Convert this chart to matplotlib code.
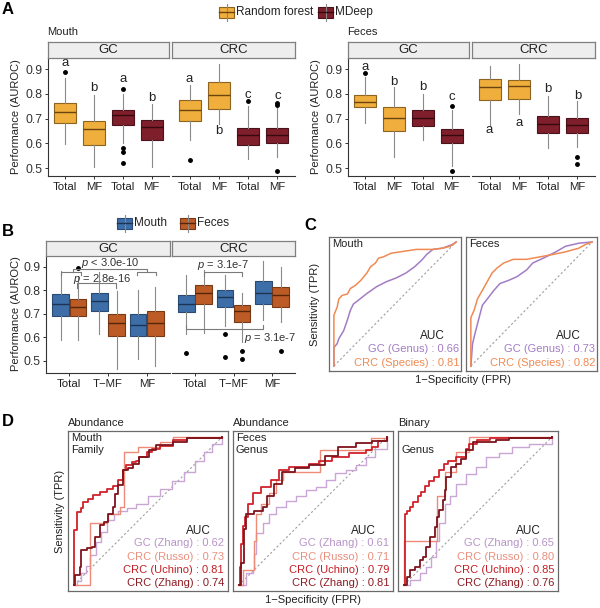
import matplotlib
matplotlib.use('Agg')
import matplotlib.pyplot as plt

plt.rcParams['font.family'] = ['Liberation Sans', 'DejaVu Sans']
plt.rcParams['mathtext.fontset'] = 'custom'
plt.rcParams['mathtext.it'] = 'Liberation Sans:italic'
plt.rcParams['mathtext.rm'] = 'Liberation Sans'

# ---------------- DATA ----------------
# Panel A: boxplot stats [whislo, q1, median, q3, whishi]
A_categories = ['Total', 'MF', 'Total', 'MF']
A_models = ['Random forest', 'Random forest', 'MDeep', 'MDeep']
A_mouth_gc = [[0.596, 0.683, 0.727, 0.764, 0.865], [0.505, 0.595, 0.660, 0.691, 0.795],
              [0.600, 0.676, 0.716, 0.734, 0.800], [0.505, 0.613, 0.665, 0.696, 0.760]]
A_mouth_gc_out = [[0.888], [], [0.82, 0.58, 0.565, 0.52], []]
A_mouth_gc_let = ['a', 'b', 'a', 'b']
A_mouth_gc_lety = [0.925, 0.822, 0.86, 0.784]
A_mouth_crc = [[0.613, 0.691, 0.734, 0.777, 0.835], [0.680, 0.738, 0.797, 0.846, 0.920],
               [0.535, 0.595, 0.633, 0.664, 0.750], [0.545, 0.600, 0.633, 0.662, 0.745]]
A_mouth_crc_out = [[0.532], [], [0.77], [0.765, 0.757, 0.487]]
A_mouth_crc_let = ['a', 'b', 'c', 'c']
A_mouth_crc_lety = [0.86, 0.649, 0.797, 0.792]
A_feces_gc = [[0.682, 0.745, 0.768, 0.795, 0.869], [0.545, 0.650, 0.704, 0.747, 0.826],
              [0.612, 0.670, 0.703, 0.736, 0.800], [0.510, 0.600, 0.632, 0.659, 0.735]]
A_feces_gc_out = [[0.885], [], [], [0.752, 0.487]]
A_feces_gc_let = ['a', 'b', 'b', 'c']
A_feces_gc_lety = [0.909, 0.846, 0.826, 0.788]
A_feces_crc = [[0.670, 0.777, 0.826, 0.862, 0.912], [0.720, 0.780, 0.831, 0.855, 0.920],
               [0.580, 0.642, 0.677, 0.710, 0.790], [0.585, 0.642, 0.673, 0.704, 0.770]]
A_feces_crc_out = [[], [], [], [0.545, 0.518]]
A_feces_crc_let = ['a', 'a', 'b', 'b']
A_feces_crc_lety = [0.655, 0.682, 0.819, 0.792]

# Panel B
B_categories = ['Total', 'T\u2212MF', 'MF']
B_sites = ['Mouth', 'Feces']
B_gc_mouth = [[0.586, 0.691, 0.741, 0.786, 0.881], [0.613, 0.714, 0.753, 0.789, 0.880],
              [0.507, 0.606, 0.653, 0.699, 0.803]]
B_gc_feces = [[0.589, 0.691, 0.731, 0.764, 0.862], [0.464, 0.606, 0.660, 0.700, 0.796],
              [0.477, 0.603, 0.660, 0.710, 0.814]]
B_gc_mouth_out = [[], [], []]
B_gc_feces_out = [[0.895], [], []]
B_crc_mouth = [[0.614, 0.706, 0.741, 0.779, 0.867], [0.646, 0.727, 0.770, 0.803, 0.867],
               [0.674, 0.741, 0.789, 0.839, 0.924]]
B_crc_feces = [[0.617, 0.743, 0.789, 0.824, 0.889], [0.581, 0.663, 0.710, 0.739, 0.791],
               [0.664, 0.731, 0.781, 0.814, 0.899]]
B_crc_mouth_out = [[0.531], [0.613, 0.517], []]
B_crc_feces_out = [[], [0.539, 0.506], [0.539]]

# Panel C: ROC curves
C_mouth_crc_fpr = [0, 0, 0.027, 0.04, 0.068, 0.11, 0.135, 0.175, 0.22, 0.27, 0.30, 0.34, 0.365,
                   0.405, 0.47, 0.54, 0.675, 0.81, 0.89, 0.95, 0.99, 1]
C_mouth_crc_tpr = [0, 0.41, 0.475, 0.54, 0.57, 0.58, 0.625, 0.65, 0.69, 0.75, 0.80, 0.83, 0.87,
                   0.88, 0.91, 0.92, 0.94, 0.94, 0.95, 0.965, 0.99, 1]
C_mouth_gc_fpr = [0, 0, 0.027, 0.04, 0.08, 0.11, 0.135, 0.16, 0.2, 0.27, 0.35, 0.43, 0.51, 0.59,
                  0.66, 0.72, 0.76, 0.81, 0.89, 0.97, 1]
C_mouth_gc_tpr = [0, 0.15, 0.18, 0.22, 0.285, 0.37, 0.45, 0.5, 0.53, 0.585, 0.64, 0.68, 0.71, 0.75,
                  0.80, 0.855, 0.9, 0.94, 0.95, 0.98, 1]
C_feces_crc_fpr = [0, 0, 0.027, 0.054, 0.095, 0.135, 0.175, 0.216, 0.27, 0.35, 0.46, 0.57, 0.68,
                   0.78, 0.89, 0.946, 1]
C_feces_crc_tpr = [0, 0.39, 0.45, 0.54, 0.61, 0.68, 0.75, 0.79, 0.83, 0.86, 0.86, 0.88, 0.9,
                   0.92, 0.95, 0.98, 1]
C_feces_gc_fpr = [0, 0.014, 0.04, 0.068, 0.095, 0.135, 0.19, 0.24, 0.31, 0.38, 0.46, 0.51, 0.62,
                  0.70, 0.78, 0.89, 1]
C_feces_gc_tpr = [0, 0.18, 0.285, 0.39, 0.49, 0.54, 0.61, 0.665, 0.69, 0.72, 0.775, 0.83, 0.88,
                  0.92, 0.965, 0.99, 1]
C_labels = ['GC (Genus)', 'CRC (Species)']
C_auc_mouth = [0.66, 0.81]
C_auc_feces = [0.73, 0.82]

# Panel D: ROC curves (GC Zhang, CRC Russo, CRC Uchino, CRC Zhang)
D_labels = ['GC (Zhang)', 'CRC (Russo)', 'CRC (Uchino)', 'CRC (Zhang)']
D1_fpr = [[0, 0.02, 0.05, 0.08, 0.11, 0.15, 0.18, 0.22, 0.27, 0.3, 0.36, 0.42, 0.5, 0.58, 0.66, 0.74, 0.82, 0.88, 0.93, 1],
          [0, 0.108, 0.22, 0.23, 0.31, 0.335, 0.335, 0.43, 0.58, 0.67, 1],
          [0, 0, 0.022, 0.05, 0.063, 0.096, 0.13, 0.175, 0.22, 0.265, 0.3, 0.33, 0.354, 0.39, 0.42, 0.44, 0.49, 0.53, 0.58, 0.67, 0.76, 0.85, 1],
          [0, 0.007, 0.04, 0.05, 0.085, 0.12, 0.14, 0.175, 0.2, 0.23, 0.265, 0.275, 0.3, 0.33, 0.365, 0.4, 0.44, 0.51, 0.556, 0.67, 0.76, 1]]
D1_tpr = [[0, 0.03, 0.08, 0.13, 0.2, 0.29, 0.36, 0.44, 0.48, 0.5, 0.52, 0.55, 0.6, 0.65, 0.7, 0.76, 0.84, 0.9, 0.95, 1],
          [0, 0.42, 0.43, 0.48, 0.53, 0.56, 0.9, 0.93, 0.965, 1, 1],
          [0, 0.37, 0.49, 0.52, 0.56, 0.58, 0.61, 0.63, 0.65, 0.67, 0.71, 0.775, 0.81, 0.83, 0.84, 0.865, 0.9, 0.92, 0.94, 0.98, 0.99, 0.995, 1],
          [0, 0.067, 0.124, 0.236, 0.247, 0.258, 0.326, 0.404, 0.427, 0.483, 0.528, 0.618, 0.674, 0.775, 0.787, 0.82, 0.865, 0.91, 0.944, 0.966, 0.99, 1]]
D1_auc = [0.62, 0.73, 0.81, 0.74]
D2_fpr = [[0, 0.05, 0.094, 0.105, 0.116, 0.16, 0.2, 0.25, 0.32, 0.385, 0.45, 0.52, 0.585, 0.65, 0.72, 0.79, 0.855, 0.92, 1],
          [0, 0.027, 0.105, 0.116, 0.15, 0.2, 0.25, 0.3, 0.55, 0.89, 1],
          [0, 0.008, 0.016, 0.03, 0.038, 0.06, 0.094, 0.15, 0.217, 0.27, 0.34, 0.47, 0.54, 0.63, 0.74, 0.855, 0.9, 0.94, 1],
          [0, 0.015, 0.035, 0.05, 0.1, 0.16, 0.19, 0.24, 0.29, 0.38, 0.47, 0.58, 0.67, 0.79, 0.9, 1]]
D2_tpr = [[0, 0.08, 0.1, 0.21, 0.35, 0.42, 0.48, 0.53, 0.57, 0.6, 0.64, 0.66, 0.71, 0.755, 0.78, 0.81, 0.865, 0.92, 1],
          [0, 0.1, 0.3, 0.48, 0.55, 0.62, 0.71, 0.76, 0.91, 0.99, 1],
          [0, 0.12, 0.28, 0.4, 0.46, 0.55, 0.62, 0.66, 0.71, 0.78, 0.8, 0.82, 0.84, 0.865, 0.89, 0.91, 0.93, 0.97, 1],
          [0, 0.15, 0.38, 0.48, 0.5, 0.53, 0.6, 0.68, 0.76, 0.79, 0.81, 0.87, 0.93, 0.96, 0.97, 1]]
D2_auc = [0.61, 0.71, 0.79, 0.81]
D3_fpr = [[0, 0.04, 0.107, 0.152, 0.185, 0.219, 0.24, 0.275, 0.308, 0.353, 0.42, 0.487, 0.554, 0.643, 0.732, 0.844, 1],
          [0, 0, 0.22, 0.275, 0.35, 0.44, 1],
          [0, 0.007, 0.018, 0.04, 0.063, 0.096, 0.118, 0.14, 0.17, 0.2, 0.24, 0.27, 0.3, 0.35, 0.42, 0.44, 0.49, 0.58, 0.7, 0.85, 1],
          [0, 0.018, 0.04, 0.074, 0.107, 0.13, 0.152, 0.174, 0.21, 0.22, 0.24, 0.263, 0.274, 0.286, 0.32, 0.352, 0.386, 0.42, 0.464, 0.53, 0.62, 0.71, 1]]
D3_tpr = [[0, 0.034, 0.08, 0.124, 0.19, 0.3, 0.416, 0.55, 0.6, 0.685, 0.753, 0.8, 0.865, 0.89, 0.935, 0.955, 1],
          [0, 0.3, 0.6, 0.76, 0.9, 1.0, 1],
          [0, 0.48, 0.5, 0.53, 0.56, 0.6, 0.63, 0.67, 0.7, 0.73, 0.775, 0.82, 0.84, 0.865, 0.92, 0.955, 0.98, 0.99, 0.99, 0.99, 1],
          [0, 0.056, 0.1, 0.124, 0.169, 0.19, 0.26, 0.326, 0.393, 0.46, 0.506, 0.573, 0.64, 0.73, 0.8, 0.82, 0.854, 0.91, 0.966, 0.966, 0.977, 0.99, 1]]
D3_auc = [0.65, 0.80, 0.85, 0.76]

# ---------------- STYLE ----------------
W, H = 600, 608
fig = plt.figure(figsize=(6, 6.08), dpi=100)
fig.patch.set_facecolor('white')

RF_FILL, RF_EDGE, RF_MED = '#F0AE3C', '#8C6420', '#6A4510'
MD_FILL, MD_EDGE, MD_MED = '#7E1F2B', '#4A121A', '#36090F'
MO_FILL, MO_EDGE, MO_MED = '#3E6EA8', '#2A4A72', '#1C3352'
FE_FILL, FE_EDGE, FE_MED = '#BC5B26', '#7A3915', '#552608'
WHISK = '#8a8a8a'
C_COLS = ['#A27CC4', '#F08A52']
D_COLS = ['#C9A6D6', '#EE8A78', '#D0222A', '#7E141C']
D_TXT = ['#B894C8', '#E8907E', '#C41E24', '#8E1B22']


def rect(l, t, r, b):
    return [l / W, 1 - b / H, (r - l) / W, (b - t) / H]


def ftext(x, y, s, **kw):
    fig.text(x / W, 1 - y / H, s, **kw)


def strip(l, t, r, b, label):
    sa = fig.add_axes(rect(l, t, r, b))
    sa.set_xticks([])
    sa.set_yticks([])
    sa.set_facecolor('#EEEEEE')
    for s in sa.spines.values():
        s.set_color('#7f7f7f')
        s.set_linewidth(0.9)
    sa.text(0.5, 0.45, label, ha='center', va='center', fontsize=9.5, color='#222222',
            transform=sa.transAxes)


def draw_boxes(ax, stats, outs, pos, width, fill, edge, med):
    for i, s in enumerate(stats):
        st = dict(whislo=s[0], q1=s[1], med=s[2], q3=s[3], whishi=s[4], fliers=outs[i])
        ax.bxp([st], positions=[pos[i]], widths=width, patch_artist=True, showcaps=False,
               boxprops=dict(facecolor=fill[i], edgecolor=edge[i], linewidth=0.8),
               medianprops=dict(color=med[i], linewidth=1.0),
               whiskerprops=dict(color=WHISK, linewidth=0.8),
               flierprops=dict(marker='o', markerfacecolor='black', markeredgecolor='black',
                               markersize=2.5, linestyle='none'),
               manage_ticks=False)


def facet_axes(l, t, r, b, ylim, show_y, xlim):
    ax = fig.add_axes(rect(l, t, r, b))
    ax.set_xlim(*xlim)
    ax.set_ylim(*ylim)
    for k in ['top', 'right']:
        ax.spines[k].set_visible(False)
    ax.spines['bottom'].set_color('#333333')
    ax.spines['bottom'].set_linewidth(0.8)
    if show_y:
        ax.spines['left'].set_color('#333333')
        ax.spines['left'].set_linewidth(0.8)
        ax.set_yticks([0.5, 0.6, 0.7, 0.8, 0.9])
        ax.set_yticklabels(['0.5', '0.6', '0.7', '0.8', '0.9'])
    else:
        ax.spines['left'].set_visible(False)
        ax.set_yticks([])
    ax.tick_params(axis='y', labelsize=8.8, length=2.5, width=0.7, color='#333333', pad=1.5,
                   labelcolor='#333333')
    ax.tick_params(axis='x', labelsize=8.2, length=2.5, width=0.7, color='#333333', pad=1.5,
                   labelcolor='#222222')
    ax.patch.set_alpha(0)
    return ax


# ---------------- PANEL A ----------------
A_ylim = (0.468, 0.947)
A_pos = [1, 2, 3, 4]
A_fill = [RF_FILL if m == 'Random forest' else MD_FILL for m in A_models]
A_edge = [RF_EDGE if m == 'Random forest' else MD_EDGE for m in A_models]
A_med = [RF_MED if m == 'Random forest' else MD_MED for m in A_models]

A_facets = [
    (48, 169, A_mouth_gc, A_mouth_gc_out, A_mouth_gc_let, A_mouth_gc_lety, 'GC', True),
    (172, 295, A_mouth_crc, A_mouth_crc_out, A_mouth_crc_let, A_mouth_crc_lety, 'CRC', False),
    (348, 469, A_feces_gc, A_feces_gc_out, A_feces_gc_let, A_feces_gc_lety, 'GC', True),
    (472, 595, A_feces_crc, A_feces_crc_out, A_feces_crc_let, A_feces_crc_lety, 'CRC', False),
]
for l, r, st, outs, lets, lety, lab, showy in A_facets:
    ax = facet_axes(l, 57.5, r, 176, A_ylim, showy, (0.4, 4.6))
    draw_boxes(ax, st, outs, A_pos, 0.75, A_fill, A_edge, A_med)
    ax.set_xticks(A_pos)
    ax.set_xticklabels(A_categories)
    for p, t, y in zip(A_pos, lets, lety):
        ax.text(p, y, t, ha='center', va='center', fontsize=9.5, color='#222222')
    strip(l, 41.5, r, 57.5, lab)

ftext(47, 32, 'Mouth', ha='left', va='center', fontsize=8, color='#222222')
ftext(347, 32, 'Feces', ha='left', va='center', fontsize=8, color='#222222')
ftext(16, 117, 'Performance (AUROC)', rotation=90, ha='center', va='center', fontsize=8,
      color='#222222')
ftext(316, 117, 'Performance (AUROC)', rotation=90, ha='center', va='center', fontsize=8,
      color='#222222')

# legend keys (box glyphs)
lg = fig.add_axes([0, 0, 1, 1])
lg.set_xlim(0, W)
lg.set_ylim(H, 0)
lg.axis('off')
lg.patch.set_alpha(0)


def key(ax, x0, yc, fill, edge, med, w=15, h=11):
    ax.plot([x0 + w / 2, x0 + w / 2], [yc - h / 2 - 3, yc + h / 2 + 3], color=WHISK, lw=0.8)
    ax.add_patch(plt.Rectangle((x0, yc - h / 2), w, h, facecolor=fill, edgecolor=edge, lw=0.8))
    ax.plot([x0, x0 + w], [yc, yc], color=med, lw=1.0)


key(lg, 219, 12, RF_FILL, RF_EDGE, RF_MED)
ftext(236, 12, A_models[0], ha='left', va='center', fontsize=8.5, color='#222222')
key(lg, 318, 12, MD_FILL, MD_EDGE, MD_MED)
ftext(335, 12, A_models[2], ha='left', va='center', fontsize=8.5, color='#222222')

# ---------------- PANEL B ----------------
B_ylim = (0.447, 0.947)
B_pos = [1, 2, 3]
B_off = 0.225
B_w = 0.43
for l, r, mst, fst, mo, fo, lab, showy in [
        (46, 170, B_gc_mouth, B_gc_feces, B_gc_mouth_out, B_gc_feces_out, 'GC', True),
        (172, 295, B_crc_mouth, B_crc_feces, B_crc_mouth_out, B_crc_feces_out, 'CRC', False)]:
    ax = facet_axes(l, 256, r, 373, B_ylim, showy, (0.4, 3.6))
    draw_boxes(ax, mst, mo, [p - B_off for p in B_pos], B_w, [MO_FILL] * 3, [MO_EDGE] * 3,
               [MO_MED] * 3)
    draw_boxes(ax, fst, fo, [p + B_off for p in B_pos], B_w, [FE_FILL] * 3, [FE_EDGE] * 3,
               [FE_MED] * 3)
    ax.set_xticks(B_pos)
    ax.set_xticklabels(B_categories)
    bc = '#7a7a7a'
    if lab == 'GC':
        ax.plot([1.1, 1.1, 3.0, 3.0], [0.877, 0.890, 0.890, 0.877], color=bc, lw=0.8)
        ax.plot([0.78, 0.78, 1.3, 1.3], [0.864, 0.877, 0.877, 0.864], color=bc, lw=0.8)
        ax.plot([2.75, 2.75, 3.25, 3.25], [0.864, 0.877, 0.877, 0.864], color=bc, lw=0.8)
        ax.text(2.05, 0.918, r'$p$ < 3.0e-10', ha='center', va='center', fontsize=8,
                color='#333333')
        ax.plot([1.2, 1.2, 2.2, 2.2], [0.812, 0.833, 0.833, 0.812], color=bc, lw=0.8)
        ax.text(1.85, 0.848, r'$p$ = 2.8e-16', ha='center', va='center', fontsize=8,
                color='#333333')
    else:
        ax.plot([1.22, 1.22, 2.22, 2.22], [0.86, 0.877, 0.877, 0.86], color=bc, lw=0.8)
        ax.text(1.73, 0.907, r'$p$ = 3.1e-7', ha='center', va='center', fontsize=8,
                color='#333333')
        ax.plot([0.775, 0.775, 2.775, 2.775], [0.652, 0.634, 0.634, 0.652], color=bc, lw=0.8)
        ax.text(2.95, 0.598, r'$p$ = 3.1e-7', ha='center', va='center', fontsize=8,
                color='#333333')
    strip(l, 240.5, r, 256, lab)

ftext(16, 314, 'Performance (AUROC)', rotation=90, ha='center', va='center', fontsize=8,
      color='#222222')
key(lg, 117, 223, MO_FILL, MO_EDGE, MO_MED)
ftext(134, 223, B_sites[0], ha='left', va='center', fontsize=8.5, color='#222222')
key(lg, 180, 223, FE_FILL, FE_EDGE, FE_MED)
ftext(197, 223, B_sites[1], ha='left', va='center', fontsize=8.5, color='#222222')


# ---------------- PANEL C ----------------
def roc_axes(l, t, r, b, lim):
    ax = fig.add_axes(rect(l, t, r, b))
    ax.set_xlim(*lim)
    ax.set_ylim(*lim)
    ax.set_xticks([])
    ax.set_yticks([])
    for s in ax.spines.values():
        s.set_color('#6a6a6a')
        s.set_linewidth(0.9)
    ax.plot([0, 1], [0, 1], linestyle=(0, (2, 2)), color='#a0a0a0', lw=0.8)
    return ax


for l, r, name, curves, aucs in [
        (329, 461, 'Mouth', [(C_mouth_gc_fpr, C_mouth_gc_tpr), (C_mouth_crc_fpr, C_mouth_crc_tpr)],
         C_auc_mouth),
        (466, 597, 'Feces', [(C_feces_gc_fpr, C_feces_gc_tpr), (C_feces_crc_fpr, C_feces_crc_tpr)],
         C_auc_feces)]:
    ax = roc_axes(l, 237, r, 371, (-0.04, 1.04))
    for (fx, ty), col in zip(curves, C_COLS):
        ax.plot(fx, ty, color=col, lw=1.1)
    ftext(l + 3, 244, name, ha='left', va='center', fontsize=8, color='#222222')
    ftext(r - 29, 336, 'AUC', ha='center', va='center', fontsize=8.5, color='#222222')
    for i, (lab, a) in enumerate(zip(C_labels, aucs)):
        ftext(r - 2, 349 + 14 * i, f'{lab} : {a:.2f}', ha='right', va='center', fontsize=8,
              color=C_COLS[i])

ftext(315, 304, 'Sensitivity (TPR)', rotation=90, ha='center', va='center', fontsize=8,
      color='#222222')
ftext(463, 380, '1\u2212Specificity (FPR)', ha='center', va='center', fontsize=8,
      color='#222222')

# ---------------- PANEL D ----------------
D_panels = [
    (68, 228, 'Abundance', 'Mouth\nFamily', D1_fpr, D1_tpr, D1_auc),
    (233, 393, 'Abundance', 'Feces\nGenus', D2_fpr, D2_tpr, D2_auc),
    (398, 558, 'Binary', '\nGenus', D3_fpr, D3_tpr, D3_auc),
]
for l, r, title, inner, fprs, tprs, aucs in D_panels:
    ax = roc_axes(l, 431, r, 591, (-0.04, 1.04))
    for j in range(4):
        lw = 1.0 if j < 2 else 1.3
        ax.plot(fprs[j], tprs[j], color=D_COLS[j], lw=lw, drawstyle='steps-post')
    ftext(l, 423, title, ha='left', va='center', fontsize=8, color='#222222')
    ftext(l + 3, 444, inner, ha='left', va='center', fontsize=8, color='#222222',
          linespacing=1.15)
    ftext(r - 30, 531, 'AUC', ha='center', va='center', fontsize=8.5, color='#222222')
    for j in range(4):
        ftext(r - 4, 543.5 + 13.3 * j, f'{D_labels[j]} : {aucs[j]:.2f}', ha='right',
              va='center', fontsize=8, color=D_TXT[j])

ftext(60, 511, 'Sensitivity (TPR)', rotation=90, ha='center', va='center', fontsize=8,
      color='#222222')
ftext(313, 600, '1\u2212Specificity (FPR)', ha='center', va='center', fontsize=8,
      color='#222222')

# panel letters
for x, y, s in [(2, 10, 'A'), (2, 232, 'B'), (304, 226, 'C'), (2, 422, 'D')]:
    ftext(x, y, s, ha='left', va='center', fontsize=12, fontweight='bold', color='black')

fig.savefig('out.png', dpi=100)
